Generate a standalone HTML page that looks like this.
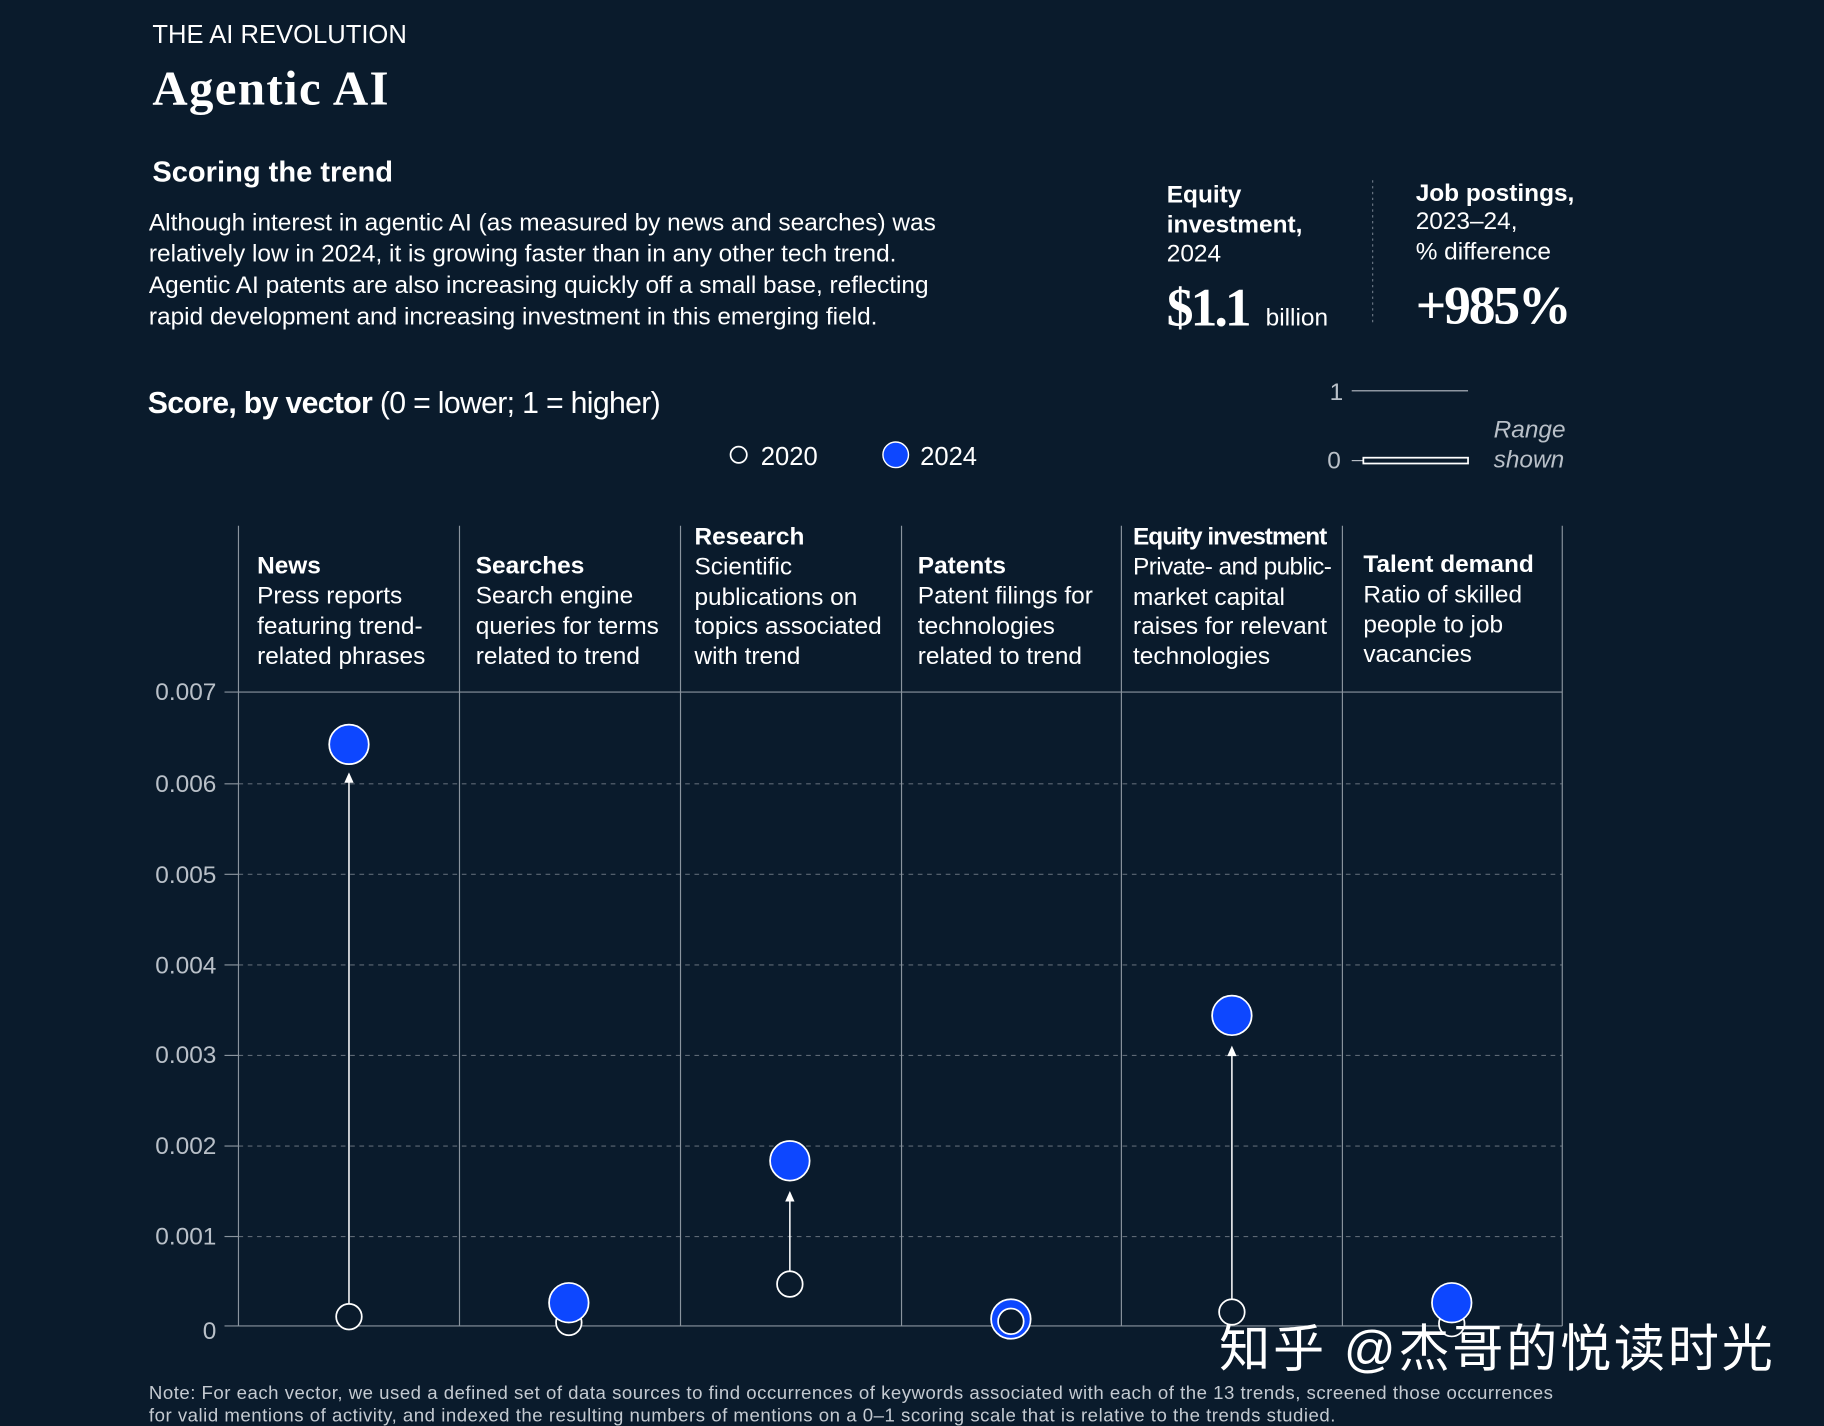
<!DOCTYPE html>
<html><head><meta charset="utf-8"><style>
html,body{margin:0;padding:0;background:#0a1b2c;}
svg{display:block;}
text{font-family:"Liberation Sans","Noto Sans CJK SC",sans-serif;fill:#fff;}
.s{font-family:"Liberation Serif",serif;font-weight:bold;}
.t{fill:#b9c0c8;font-size:21px;}
.h{font-size:21px;}
.b{font-weight:bold;}
</style></head><body>
<svg width="1824" height="1426" viewBox="0 0 1568 1226" preserveAspectRatio="none" xmlns="http://www.w3.org/2000/svg">
<rect width="1568" height="1226" fill="#0a1b2c"/>
<text x="131" y="37" font-size="22">THE AI REVOLUTION</text>
<text x="131" y="90" font-size="42" class="s" textLength="203">Agentic AI</text>
<text x="131" y="156" font-size="25" class="b">Scoring the trend</text>
<g font-size="21">
<text x="128" y="198">Although interest in agentic AI (as measured by news and searches) was</text>
<text x="128" y="225">relatively low in 2024, it is growing faster than in any other tech trend.</text>
<text x="128" y="252">Agentic AI patents are also increasing quickly off a small base, reflecting</text>
<text x="128" y="279">rapid development and increasing investment in this emerging field.</text>
<text x="1003" y="174" class="b">Equity</text>
<text x="1003" y="200" class="b">investment,</text>
<text x="1003" y="225">2024</text>
<text x="1088" y="280">billion</text>
<text x="1217" y="173" class="b">Job postings,</text>
<text x="1217" y="197">2023–24,</text>
<text x="1217" y="223">% difference</text>
</g>
<text x="1003" y="280" font-size="46" class="s" textLength="73">$1.1</text>
<text x="1217" y="278" font-size="46" class="s" textLength="134">+985%</text>
<line x1="1180" y1="155" x2="1180" y2="280" stroke="#6b7785" stroke-dasharray="2 3"/>
<text x="127" y="355" font-size="26" textLength="441"><tspan class="b">Score, by vector</tspan> (0 = lower; 1 = higher)</text>
<circle cx="635" cy="391" r="7" fill="none" stroke="#fff" stroke-width="1.5"/>
<text x="654" y="400" font-size="22">2020</text>
<circle cx="770" cy="391" r="11" fill="#0d47ff" stroke="#fff" stroke-width="1.2"/>
<text x="791" y="400" font-size="22">2024</text>
<text x="1143" y="344" class="t">1</text>
<line x1="1162" y1="336" x2="1262" y2="336" stroke="#b9c0c8" stroke-width="1"/>
<text x="1141" y="403" class="t">0</text>
<line x1="1162" y1="396" x2="1172" y2="396" stroke="#b9c0c8"/>
<rect x="1172" y="393.5" width="90" height="5" fill="#0a1b2c" stroke="#fff" stroke-width="1.5"/>
<text x="1284" y="376" class="t" font-style="italic">Range</text>
<text x="1284" y="402" class="t" font-style="italic">shown</text>
<g stroke="#5d6874" stroke-dasharray="4 4" stroke-width="1">
<line x1="205" y1="673.9" x2="1343" y2="673.9"/><line x1="205" y1="751.7" x2="1343" y2="751.7"/>
<line x1="205" y1="829.6" x2="1343" y2="829.6"/><line x1="205" y1="907.4" x2="1343" y2="907.4"/>
<line x1="205" y1="985.3" x2="1343" y2="985.3"/><line x1="205" y1="1063.1" x2="1343" y2="1063.1"/>
</g>
<g stroke="#8a949e" stroke-width="1">
<line x1="205" y1="452" x2="205" y2="1140"/><line x1="395" y1="452" x2="395" y2="1140"/>
<line x1="585" y1="452" x2="585" y2="1140"/><line x1="775" y1="452" x2="775" y2="1140"/>
<line x1="964" y1="452" x2="964" y2="1140"/><line x1="1154" y1="452" x2="1154" y2="1140"/>
<line x1="1343" y1="452" x2="1343" y2="1140"/>
<line x1="193" y1="595" x2="1343" y2="595"/><line x1="193" y1="1140" x2="1343" y2="1140"/>
<line x1="193" y1="673.9" x2="205" y2="673.9"/><line x1="193" y1="751.7" x2="205" y2="751.7"/>
<line x1="193" y1="829.6" x2="205" y2="829.6"/><line x1="193" y1="907.4" x2="205" y2="907.4"/>
<line x1="193" y1="985.3" x2="205" y2="985.3"/><line x1="193" y1="1063.1" x2="205" y2="1063.1"/>
</g>
<g class="t" text-anchor="end">
<text x="186" y="602" class="t">0.007</text><text x="186" y="681" class="t">0.006</text>
<text x="186" y="759" class="t">0.005</text><text x="186" y="837" class="t">0.004</text>
<text x="186" y="914" class="t">0.003</text><text x="186" y="992" class="t">0.002</text>
<text x="186" y="1070" class="t">0.001</text><text x="186" y="1151" class="t">0</text>
</g>
<g class="h">
<text x="221" y="493" class="h b">News</text><text x="221" y="519" class="h">Press reports</text><text x="221" y="545" class="h">featuring trend-</text><text x="221" y="571" class="h">related phrases</text>
<text x="409" y="493" class="h b">Searches</text><text x="409" y="519" class="h">Search engine</text><text x="409" y="545" class="h">queries for terms</text><text x="409" y="571" class="h">related to trend</text>
<text x="597" y="468" class="h b">Research</text><text x="597" y="494" class="h">Scientific</text><text x="597" y="520" class="h">publications on</text><text x="597" y="545" class="h">topics associated</text><text x="597" y="571" class="h">with trend</text>
<text x="789" y="493" class="h b">Patents</text><text x="789" y="519" class="h">Patent filings for</text><text x="789" y="545" class="h">technologies</text><text x="789" y="571" class="h">related to trend</text>
<text x="974" y="468" class="h b" textLength="167">Equity investment</text><text x="974" y="494" class="h" textLength="171">Private- and public-</text><text x="974" y="520" class="h">market capital</text><text x="974" y="545" class="h">raises for relevant</text><text x="974" y="571" class="h">technologies</text>
<text x="1172" y="492" class="h b">Talent demand</text><text x="1172" y="518" class="h">Ratio of skilled</text><text x="1172" y="544" class="h">people to job</text><text x="1172" y="569" class="h">vacancies</text>
</g>
<g stroke="#fff" stroke-width="1.3" fill="#fff">
<line x1="300" y1="1121" x2="300" y2="672"/><path d="M300 664 l-4 9 h8z" stroke="none"/>
<line x1="679" y1="1093" x2="679" y2="1032"/><path d="M679 1024 l-4 9 h8z" stroke="none"/>
<line x1="1059" y1="1117" x2="1059" y2="907"/><path d="M1059 899 l-4 9 h8z" stroke="none"/>
</g>
<g fill="#0a1b2c" stroke="#fff" stroke-width="1.5">
<circle cx="300" cy="1132" r="11"/><circle cx="489" cy="1137" r="11"/><circle cx="679" cy="1104" r="11"/>
<circle cx="1059" cy="1128" r="11"/><circle cx="1248" cy="1138" r="11"/>
</g>
<g fill="#0d47ff" stroke="#fff" stroke-width="1.5">
<circle cx="300" cy="640" r="17"/><circle cx="489" cy="1120" r="17"/><circle cx="679" cy="998" r="17"/>
<circle cx="869" cy="1134" r="17"/><circle cx="1059" cy="873" r="17"/><circle cx="1248" cy="1120" r="17"/>
</g>
<circle cx="869" cy="1136" r="11" fill="#0a1b2c" stroke="#fff" stroke-width="1.5"/>
<text x="1048" y="1175" font-size="44" textLength="476" style="fill:#fff">知乎 @杰哥的悦读时光</text>
<text x="128" y="1203" font-size="16" textLength="1207" style="fill:#c4cad1">Note: For each vector, we used a defined set of data sources to find occurrences of keywords associated with each of the 13 trends, screened those occurrences</text>
<text x="128" y="1222" font-size="16" textLength="1020" style="fill:#c4cad1">for valid mentions of activity, and indexed the resulting numbers of mentions on a 0–1 scoring scale that is relative to the trends studied.</text>
</svg>
</body></html>
